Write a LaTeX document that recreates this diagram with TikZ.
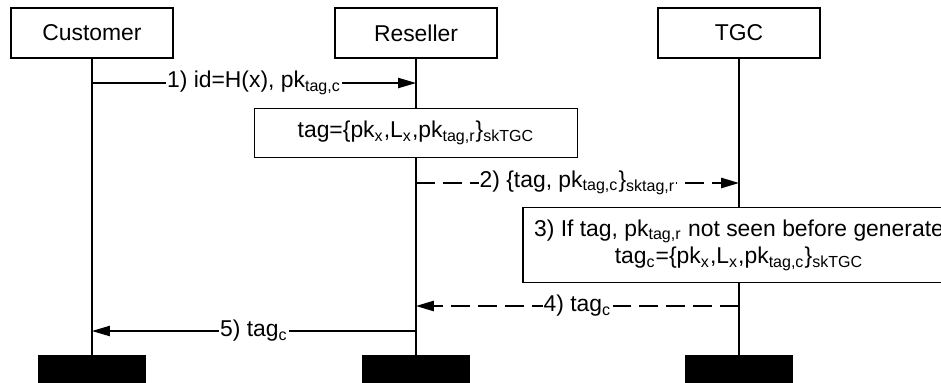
\documentclass[tikz,border=0pt]{standalone}
\usepackage{fontspec}
\setmainfont{Liberation Sans}
\usetikzlibrary{arrows.meta,positioning}

\begin{document}
\begin{tikzpicture}[x=0.45pt,y=-0.45pt,font=\fontsize{10.3}{12.5}\selectfont,
    party/.style={draw,line width=0.5pt,minimum width=72.9pt,minimum height=22.5pt,inner sep=0pt},
    action/.style={draw,line width=0.5pt,fill=white,align=center,inner sep=0pt},
    endbar/.style={fill=black,minimum width=48.6pt,minimum height=13.5pt,inner sep=0pt},
    msg/.style={line width=0.5pt,-{Triangle[length=8pt,width=4.6pt]}},
    reply/.style={msg,line width=0.7pt,dash pattern=on 8.5pt off 3.6pt},
    lbl/.style={fill=white,inner sep=0.5pt}]
    \useasboundingbox (0,0) rectangle (941,382);
    % participants
    \node[party] (cust) at (92,33) {Customer};
    \node[party] (res) at (416,33) {Reseller};
    \node[party] (tgc) at (739,33) {TGC};
    \node[endbar] (custend) at (92,370) {};
    \node[endbar] (resend) at (416,370) {};
    \node[endbar] (tgcend) at (739,370) {};
    % lifelines
    \draw[line width=0.5pt] (cust) -- (custend);
    \draw[line width=0.5pt] (res) -- (resend);
    \draw[line width=0.5pt] (tgc) -- (tgcend);
    % message points
    \coordinate (m1a) at (cust |- 0,83);
    \coordinate (m1b) at (res |- 0,83);
    \coordinate (m2a) at (res |- 0,183);
    \coordinate (m2b) at (tgc |- 0,183);
    \coordinate (m4a) at (tgc |- 0,306);
    \coordinate (m4b) at (res |- 0,306);
    \coordinate (m5a) at (res |- 0,331);
    \coordinate (m5b) at (cust |- 0,331);
    % actions
    \node[action,minimum width=145.4pt,minimum height=22pt] (mktag) at (416,133)
        {tag=\{pk\textsubscript{x},L\textsubscript{x},pk\textsubscript{tag,r}\}\textsubscript{skTGC}};
    \node[action,minimum width=194.4pt,minimum height=33.8pt] (check) at (739,245)
        {3) If tag, pk\textsubscript{tag,r} not seen before generate\\
         tag\textsubscript{c}=\{pk\textsubscript{x},L\textsubscript{x},pk\textsubscript{tag,c}\}\textsubscript{skTGC}};
    % messages
    \draw[msg] (m1a) -- node[lbl] {1) id=H(x), pk\textsubscript{tag,c}} (m1b);
    \draw[reply] (m2a) -- node[lbl] {2) \{tag, pk\textsubscript{tag,c}\}\textsubscript{sktag,r}} (m2b);
    \draw[reply] (m4a) -- node[lbl] {4) tag\textsubscript{c}} (m4b);
    \draw[msg] (m5a) -- node[lbl] {5) tag\textsubscript{c}} (m5b);
\end{tikzpicture}
\end{document}
